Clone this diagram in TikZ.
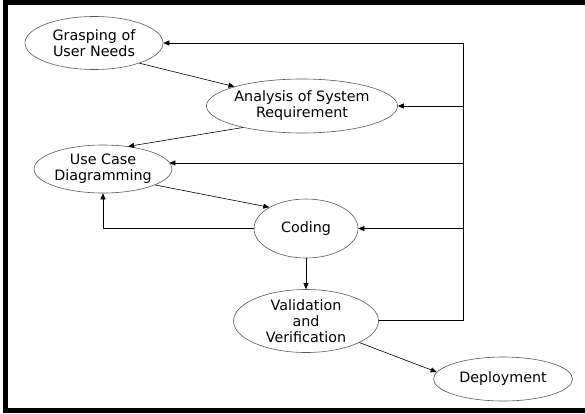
\documentclass[tikz,border=0pt]{standalone}
\usepackage{fontspec}
\setmainfont{DejaVu Sans}
\usetikzlibrary{shapes.geometric,arrows.meta}

\begin{document}
\begin{tikzpicture} [x = 1pt, y = -1pt, font = \fontsize{14.3}{16}\selectfont,
  phase/.style = {ellipse, draw = black!65, line width = 0.6pt, inner sep = 0pt, align = center},
  flow/.style = {-{Triangle[length = 6pt, width = 5pt]}, black, line width = 0.6pt}]
\useasboundingbox (0, 0) rectangle (585, 413);
\draw[black, line width = 5pt] (585, 2.5) -- (5.5, 2.5) -- (5.5, 410.5) -- (585, 410.5);
\node[phase, minimum width = 138, minimum height = 53] (grasp) at (94, 43){Grasping of\\User Needs};
\node[phase, minimum width = 180, minimum height = 54] (analysis) at (302, 106){Analysis of System\\Requirement};
\node[phase, minimum width = 137, minimum height = 48] (usecase) at (103, 169){Use Case\\Diagramming};
\node[phase, minimum width = 104, minimum height = 59] (coding) at (306, 228.5){Coding};
\node[phase, minimum width = 145, minimum height = 63] (valid) at (306, 321){Validation\\and\\Verification};
\node[phase, minimum width = 139, minimum height = 44] (deploy) at (503, 379){Deployment};
% feedback line on the right
\coordinate (fbtop) at (463, 43);
\coordinate (fbbot) at (463, 320);
\coordinate (fbuse) at (463, 163);
\draw[black, line width = 0.6pt] (valid.east |- fbbot) -- (fbbot) -- (fbtop);
\draw[flow] (fbtop) -- (grasp.east);
\draw[flow] (fbtop |- analysis.east) -- (analysis.east);
\draw[flow] (fbuse) -- (fbuse -| usecase.6);
\draw[flow] (fbtop |- coding.east) -- (coding.east);
% forward steps
\draw[flow] (grasp.-24) -- (analysis.164);
\draw[flow] (analysis.-160) -- (usecase.42);
\draw[flow] (usecase.-17) -- (coding.150);
\draw[flow] (coding.west) -| (usecase.south);
\draw[flow] (coding.south) -- (valid.north);
\draw[flow] (valid.-22) -- (deploy.174);
\end{tikzpicture}
\end{document}
